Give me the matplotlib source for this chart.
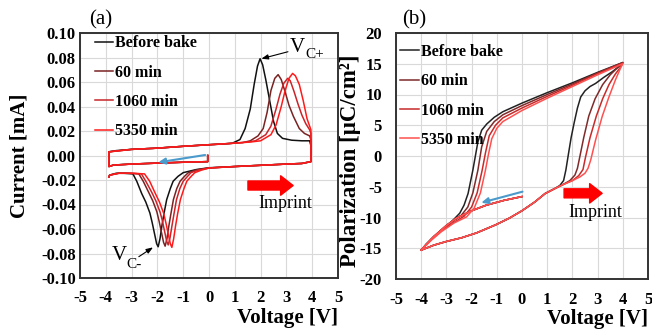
import matplotlib
matplotlib.use('Agg')
import matplotlib.pyplot as plt
import numpy as np

plt.rcParams['font.family'] = ['Liberation Serif', 'DejaVu Serif']
plt.rcParams['axes.unicode_minus'] = False

labels = ['Before bake', '60 min', '1060 min', '5350 min']
colors_a = ['#111111', '#7a2222', '#c8242a', '#ff1a1a']
colors_b = ['#222222', '#7f2a2a', '#c82a2a', '#ff5050']

# ---- (a) current vs voltage ----
# first sweep 0 V -> -4 V (same for all)
a_start_v = [-0.05, -0.05, -1.0, -2.0, -3.0, -3.7, -3.88]
a_start_i = [0.000, -0.005, -0.0055, -0.0062, -0.007, -0.0078, -0.009]

# rising sweep -4 V -> +4 V
a_up_v_before = [-3.88, -3.6, -3.0, -2.0, -1.0, 0.0, 0.5, 0.9, 1.2, 1.4, 1.6, 1.75, 1.88, 1.98, 2.08,
                 2.2, 2.35, 2.5, 2.65, 2.85, 3.2, 3.6, 3.9, 3.95, 3.95]
a_up_i_before = [0.003, 0.004, 0.005, 0.006, 0.0075, 0.0088, 0.0093, 0.010, 0.013, 0.022, 0.038, 0.058,
                 0.073, 0.079, 0.074, 0.062, 0.045, 0.028, 0.018, 0.014, 0.0125, 0.012, 0.012, 0.008, -0.005]
a_up_v_60 = [-3.88, -3.0, -2.0, -1.0, 0.0, 0.8, 1.3, 1.6, 1.9, 2.1, 2.25, 2.4, 2.55, 2.68, 2.8, 2.95,
             3.1, 3.27, 3.5, 3.7, 3.9, 3.95, 3.95]
a_up_i_60 = [0.003, 0.005, 0.006, 0.0075, 0.0088, 0.0098, 0.0105, 0.012, 0.016, 0.022, 0.035, 0.053,
             0.063, 0.066, 0.062, 0.052, 0.041, 0.032, 0.022, 0.018, 0.016, 0.013, -0.005]
a_up_v_1060 = [-3.88, -3.0, -2.0, -1.0, 0.0, 0.8, 1.5, 1.8, 2.2, 2.4, 2.6, 2.75, 2.9, 3.05, 3.15, 3.3,
               3.45, 3.6, 3.75, 3.9, 3.95, 3.95]
a_up_i_1060 = [0.003, 0.005, 0.006, 0.0075, 0.0088, 0.0098, 0.011, 0.012, 0.017, 0.024, 0.038, 0.050,
               0.059, 0.063, 0.061, 0.052, 0.042, 0.033, 0.026, 0.021, 0.018, -0.005]
a_up_v_5350 = [-3.88, -3.0, -2.0, -1.0, 0.0, 0.8, 1.6, 2.0, 2.4, 2.6, 2.8, 2.95, 3.1, 3.24, 3.35, 3.5,
               3.65, 3.8, 3.9, 3.95, 3.95]
a_up_i_5350 = [0.003, 0.005, 0.006, 0.0075, 0.0088, 0.0098, 0.011, 0.012, 0.017, 0.025, 0.040, 0.053,
               0.063, 0.067, 0.065, 0.058, 0.045, 0.030, 0.024, 0.021, -0.005]

# falling sweep +4 V -> -4 V
a_dn_v_before = [3.6, 3.0, 2.0, 1.0, 0.0, -0.5, -1.0, -1.2, -1.39, -1.5, -1.64, -1.75, -1.83, -1.9, -1.97,
                 -2.03, -2.09, -2.2, -2.29, -2.45, -2.61, -2.8, -2.95, -3.3, -3.6, -3.85, -3.88]
a_dn_i_before = [-0.0065, -0.007, -0.008, -0.009, -0.0100, -0.0115, -0.014, -0.017, -0.021, -0.027, -0.036,
                 -0.048, -0.058, -0.068, -0.0745, -0.072, -0.066, -0.055, -0.047, -0.038, -0.031, -0.021,
                 -0.015, -0.0145, -0.0145, -0.016, -0.0175]
a_dn_v_60 = [3.6, 3.0, 2.0, 1.0, 0.0, -0.5, -0.8, -0.95, -1.12, -1.25, -1.38, -1.48, -1.56, -1.63, -1.70,
             -1.76, -1.82, -1.93, -2.02, -2.18, -2.34, -2.55, -2.72, -3.1, -3.5, -3.85, -3.88]
a_dn_i_60 = [-0.0065, -0.007, -0.008, -0.009, -0.0102, -0.0118, -0.014, -0.017, -0.021, -0.027, -0.036,
             -0.048, -0.058, -0.068, -0.074, -0.071, -0.065, -0.054, -0.046, -0.037, -0.030, -0.021,
             -0.015, -0.0145, -0.0145, -0.016, -0.0175]
a_dn_v_1060 = [3.6, 3.0, 2.0, 1.0, 0.0, -0.4, -0.7, -0.83, -1.0, -1.13, -1.26, -1.36, -1.44, -1.51, -1.58,
               -1.64, -1.70, -1.81, -1.90, -2.06, -2.22, -2.45, -2.62, -3.0, -3.5, -3.85, -3.88]
a_dn_i_1060 = [-0.0065, -0.007, -0.008, -0.009, -0.0102, -0.0118, -0.014, -0.017, -0.021, -0.027, -0.036,
               -0.048, -0.058, -0.067, -0.073, -0.070, -0.064, -0.053, -0.046, -0.037, -0.030, -0.021,
               -0.015, -0.0145, -0.0145, -0.016, -0.0175]
a_dn_v_5350 = [3.6, 3.0, 2.0, 1.0, 0.0, -0.3, -0.55, -0.69, -0.86, -0.97, -1.11, -1.22, -1.30, -1.37, -1.44,
               -1.50, -1.56, -1.67, -1.76, -1.92, -2.08, -2.3, -2.5, -3.0, -3.5, -3.85, -3.88]
a_dn_i_5350 = [-0.0065, -0.007, -0.008, -0.009, -0.0102, -0.012, -0.014, -0.017, -0.021, -0.027, -0.036,
               -0.048, -0.058, -0.068, -0.075, -0.072, -0.066, -0.055, -0.047, -0.038, -0.031, -0.021,
               -0.015, -0.0145, -0.0145, -0.016, -0.0175]

# ---- (b) polarization vs voltage ----
b_start_v = [0.0, -0.7, -1.42, -2.0, -2.6, -3.0, -3.5, -4.0]
b_start_p = [-6.6, -7.2, -8.0, -8.9, -10.1, -11.3, -13.1, -15.3]

b_up_v_before = [-4.0, -3.5, -3.0, -2.4, -1.8, -1.05, -0.5, 0.0, 0.5, 0.92, 1.3, 1.5, 1.65, 1.74, 1.85,
                 1.95, 2.07, 2.2, 2.33, 2.5, 2.7, 2.92, 3.25, 3.58, 3.8, 4.0]
b_up_p_before = [-15.3, -14.5, -13.9, -13.3, -12.5, -11.2, -10.1, -8.9, -7.5, -6.1, -5.3, -4.8, -4.0, -2.3,
                 0.5, 3.0, 5.4, 7.8, 9.6, 10.6, 11.3, 11.8, 12.8, 13.7, 14.4, 15.2]
b_up_v_60 = [-4.0, -3.5, -3.0, -2.4, -1.8, -1.05, -0.5, 0.0, 0.5, 0.92, 1.3, 1.6, 1.9, 2.1, 2.2, 2.3,
             2.45, 2.65, 2.9, 3.2, 3.5, 3.75, 4.0]
b_up_p_60 = [-15.3, -14.5, -13.9, -13.3, -12.5, -11.2, -10.1, -8.9, -7.5, -6.1, -5.3, -4.7, -4.0, -3.1,
             -2.0, 0.0, 3.0, 6.5, 9.3, 11.6, 13.2, 14.2, 15.2]
b_up_v_1060 = [-4.0, -3.5, -3.0, -2.4, -1.8, -1.05, -0.5, 0.0, 0.5, 0.92, 1.3, 1.6, 2.0, 2.25, 2.42, 2.52,
               2.7, 2.95, 3.2, 3.45, 3.7, 3.9, 4.0]
b_up_p_1060 = [-15.3, -14.5, -13.9, -13.3, -12.5, -11.2, -10.1, -8.9, -7.5, -6.1, -5.3, -4.7, -4.0, -3.2,
               -2.2, -0.2, 3.0, 6.5, 9.3, 11.6, 13.3, 14.4, 15.1]
b_up_v_5350 = [-4.0, -3.5, -3.0, -2.4, -1.8, -1.05, -0.5, 0.0, 0.5, 0.92, 1.3, 1.6, 2.0, 2.3, 2.5, 2.62,
               2.73, 2.92, 3.18, 3.45, 3.71, 3.91, 4.0]
b_up_p_5350 = [-15.3, -14.5, -13.9, -13.3, -12.5, -11.2, -10.1, -8.9, -7.5, -6.1, -5.3, -4.7, -4.0, -3.4,
               -2.8, -2.0, -0.6, 2.6, 6.4, 9.6, 12.4, 14.3, 15.0]

b_dn_v_before = [4.0, 3.0, 2.0, 1.0, 0.0, -0.76, -1.1, -1.4, -1.6, -1.75, -1.85, -1.95, -2.05, -2.14, -2.3,
                 -2.47, -2.8, -3.2, -3.53, -3.8, -4.0]
b_dn_p_before = [15.2, 13.6, 11.9, 10.3, 8.6, 7.2, 6.3, 5.2, 4.2, 2.3, 0.0, -2.3, -4.3, -6.1, -8.0, -9.3,
                 -10.7, -12.1, -13.3, -14.3, -15.3]
b_dn_v_60 = [4.0, 3.0, 2.0, 1.0, 0.0, -0.76, -1.1, -1.4, -1.6, -1.75, -1.95, -2.15, -2.4, -2.8, -3.2, -3.6, -4.0]
b_dn_p_60 = [15.2, 13.5, 11.7, 10.0, 8.2, 6.7, 5.6, 4.0, 1.5, -2.3, -6.0, -8.3, -9.6, -10.8, -12.1, -13.5, -15.3]
b_dn_v_1060 = [4.0, 3.0, 2.0, 1.0, 0.0, -0.76, -1.05, -1.3, -1.45, -1.58, -1.78, -2.0, -2.3, -2.7, -3.2, -3.6, -4.0]
b_dn_p_1060 = [15.1, 13.4, 11.5, 9.7, 7.8, 6.2, 5.0, 3.3, 0.5, -2.3, -6.0, -8.3, -9.8, -10.8, -12.2, -13.6, -15.3]
b_dn_v_5350 = [4.0, 3.0, 2.0, 1.0, 0.0, -0.76, -1.0, -1.2, -1.33, -1.45, -1.65, -1.9, -2.2, -2.7, -3.2, -3.6, -4.0]
b_dn_p_5350 = [15.0, 13.2, 11.3, 9.4, 7.4, 5.6, 4.5, 2.8, 0.3, -2.3, -6.0, -8.5, -9.9, -10.9, -12.3, -13.7, -15.3]

a_curves = [
    (a_up_v_before, a_up_i_before, a_dn_v_before, a_dn_i_before),
    (a_up_v_60, a_up_i_60, a_dn_v_60, a_dn_i_60),
    (a_up_v_1060, a_up_i_1060, a_dn_v_1060, a_dn_i_1060),
    (a_up_v_5350, a_up_i_5350, a_dn_v_5350, a_dn_i_5350),
]
b_curves = [
    (b_up_v_before, b_up_p_before, b_dn_v_before, b_dn_p_before),
    (b_up_v_60, b_up_p_60, b_dn_v_60, b_dn_p_60),
    (b_up_v_1060, b_up_p_1060, b_dn_v_1060, b_dn_p_1060),
    (b_up_v_5350, b_up_p_5350, b_dn_v_5350, b_dn_p_5350),
]

fig = plt.figure(figsize=(6.52, 3.30), dpi=100)
ax_a = fig.add_axes([80 / 652, 52 / 330, 258 / 652, 245 / 330])
ax_b = fig.add_axes([396 / 652, 51 / 330, 252 / 652, 246 / 330])

for ax in (ax_a, ax_b):
    ax.set_xlim(-5, 5)
    ax.set_xticks(np.arange(-5, 6, 1))
    ax.grid(True, color='#d9d9d9', lw=0.8)
    ax.set_axisbelow(True)
    for s in ax.spines.values():
        s.set_color('#333333')
        s.set_linewidth(1.4)
    ax.set_xlabel('Voltage [V]', fontsize=15, fontweight='bold', loc='right', labelpad=1)

# panel (a)
for (uv, ui, dv, di), c, lab in zip(a_curves, colors_a, labels):
    v = np.r_[a_start_v, uv, dv]
    i = np.r_[a_start_i, ui, di]
    ax_a.plot(v, i, color=c, lw=1.1, label=lab)
ax_a.set_ylim(-0.10, 0.10)
ax_a.set_yticks(np.arange(-0.10, 0.101, 0.02))
ax_a.set_yticklabels(['%.2f' % t for t in np.arange(-0.10, 0.101, 0.02)])
ax_a.tick_params(axis='both', length=0, labelsize=12)
ax_a.tick_params(axis='x', pad=9)
ax_a.tick_params(axis='y', pad=3)
ax_a.set_ylabel('Current [mA]', fontsize=15, fontweight='bold')
ax_a.yaxis.set_label_coords(-0.195, 0.5)

# panel (b)
for (uv, up, dv, dp), c, lab in zip(b_curves, colors_b, labels):
    v = np.r_[b_start_v, uv, dv]
    p = np.r_[b_start_p, up, dp]
    ax_b.plot(v, p, color=c, lw=1.1, label=lab)
ax_b.set_ylim(-20, 20)
ax_b.set_yticks(np.arange(-20, 21, 5))
ax_b.tick_params(axis='both', length=0, labelsize=12)
ax_b.tick_params(axis='x', pad=9)
ax_b.tick_params(axis='y', pad=10)
ax_b.set_ylabel('Polarization [\u03bcC/cm\u00b2]', fontsize=16.5, fontweight='bold')
ax_b.yaxis.set_label_coords(-0.14, 0.48)

for ax in (ax_a, ax_b):
    for lab in ax.get_xticklabels() + ax.get_yticklabels():
        lab.set_fontweight('bold')

ax_a.legend(loc='upper left', bbox_to_anchor=(0.06, 0.99), frameon=False, borderaxespad=0,
            borderpad=0, handlelength=1.1, handletextpad=0.1, labelspacing=0.83,
            prop=dict(weight='bold', size=11.5))
ax_b.legend(loc='upper left', bbox_to_anchor=(0.015, 0.955), frameon=False, borderaxespad=0,
            borderpad=0, handlelength=1.2, handletextpad=0.1, labelspacing=0.83,
            prop=dict(weight='bold', size=11.5))

# annotations (a)
ax_a.text(3.14, 0.0845, 'V', fontsize=15, va='baseline')
ax_a.text(3.74, 0.0796, 'C+', fontsize=11, va='baseline')
ax_a.annotate('', xy=(2.03, 0.079), xytext=(3.06, 0.0847),
              arrowprops=dict(arrowstyle='-|>,head_length=0.4,head_width=0.15', color='black', lw=0.8,
                              shrinkA=0, shrinkB=0))
ax_a.text(-3.78, -0.0853, 'V', fontsize=15, va='baseline')
ax_a.text(-3.22, -0.0918, 'C-', fontsize=11, va='baseline')
ax_a.annotate('', xy=(-2.17, -0.075), xytext=(-2.72, -0.0826),
              arrowprops=dict(arrowstyle='-|>,head_length=0.4,head_width=0.15', color='black', lw=0.8,
                              shrinkA=0, shrinkB=0))
ax_a.annotate('', xy=(-1.97, -0.0056), xytext=(-0.15, 0.0004),
              arrowprops=dict(arrowstyle='-|>,head_length=0.4,head_width=0.18', color='#4a9acb', lw=1.5,
                              shrinkA=0, shrinkB=0))
ax_a.annotate('', xy=(3.26, -0.0245), xytext=(1.51, -0.0245),
              arrowprops=dict(arrowstyle='simple,head_length=0.9,head_width=1.4,tail_width=0.65',
                              color='#ff0000', mutation_scale=10, shrinkA=0, shrinkB=0))
ax_a.text(2.95, -0.0388, 'Imprint', fontsize=13, ha='center', va='center')

# annotations (b)
ax_b.annotate('', xy=(-1.62, -7.6), xytext=(0.02, -5.8),
              arrowprops=dict(arrowstyle='-|>,head_length=0.4,head_width=0.18', color='#4a9acb', lw=1.5,
                              shrinkA=0, shrinkB=0))
ax_b.annotate('', xy=(3.18, -6.07), xytext=(1.67, -6.07),
              arrowprops=dict(arrowstyle='simple,head_length=0.9,head_width=1.4,tail_width=0.65',
                              color='#ff0000', mutation_scale=10, shrinkA=0, shrinkB=0))
ax_b.text(2.92, -9.2, 'Imprint', fontsize=13, ha='center', va='center')

fig.text(101 / 652, 1 - 20 / 330, '(a)', fontsize=15, ha='center', va='center')
fig.text(414 / 652, 1 - 20 / 330, '(b)', fontsize=15, ha='center', va='center')

fig.savefig('out.png', dpi=100)
